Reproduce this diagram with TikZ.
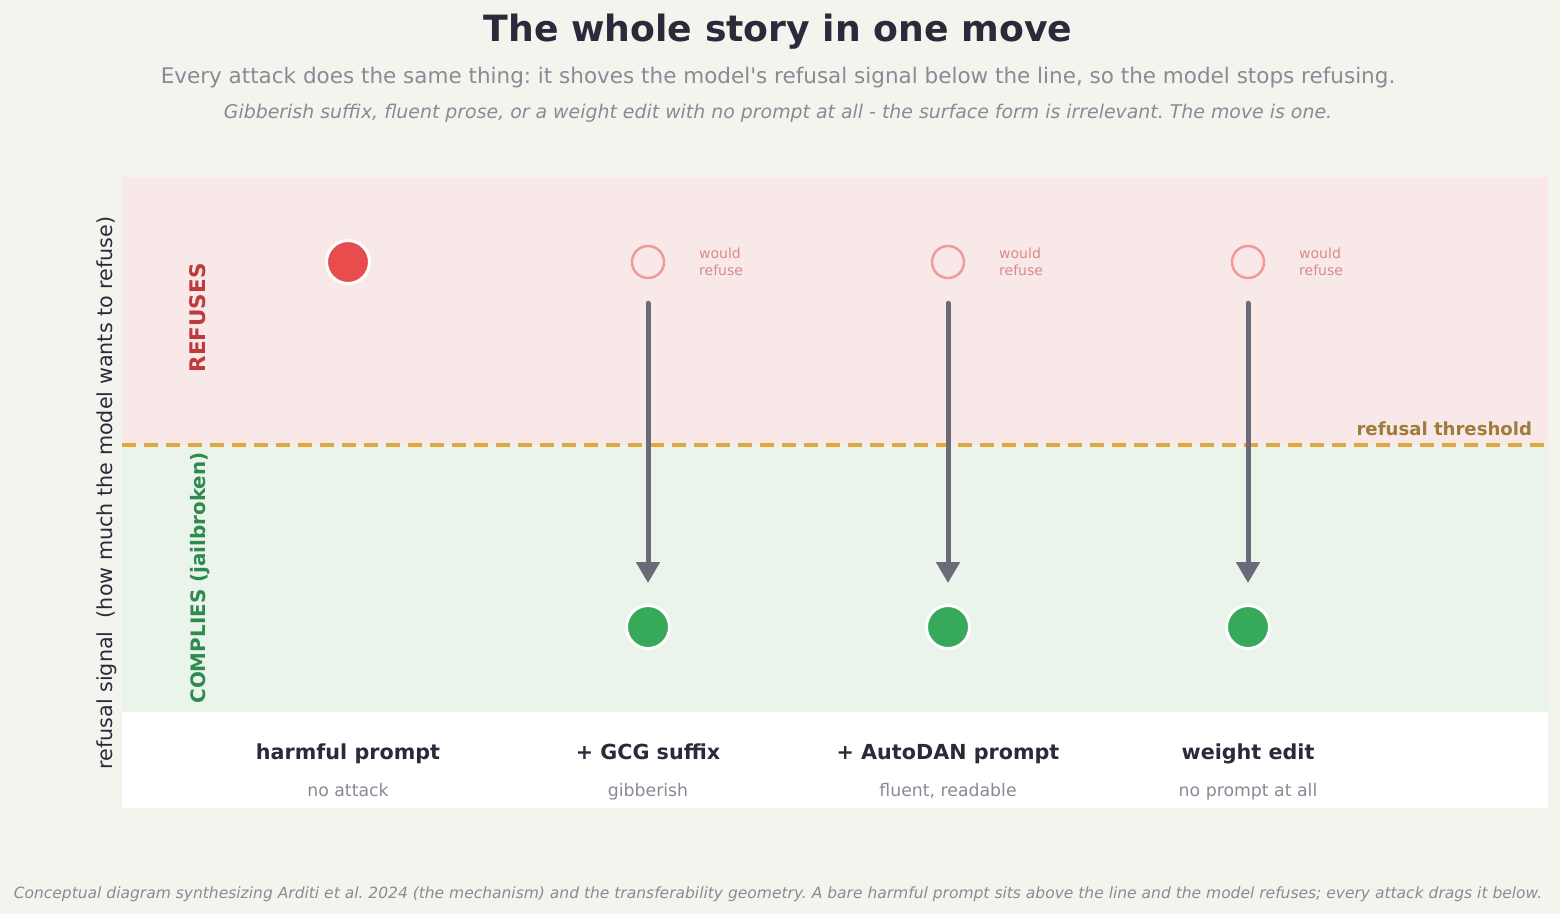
\documentclass[tikz,border=0pt]{standalone}
\usepackage{fontspec}
\setmainfont{DejaVu Sans}
\frenchspacing
\usetikzlibrary{arrows.meta}
\definecolor{bgc}{HTML}{F4F4EF}
\definecolor{pinkc}{HTML}{F8E9E8}
\definecolor{greenc}{HTML}{EAF4EA}
\definecolor{threshc}{HTML}{E0A83E}
\definecolor{reddot}{HTML}{E84C4C}
\definecolor{greendot}{HTML}{36A95A}
\definecolor{arrowc}{HTML}{6B6A78}
\definecolor{hollowc}{HTML}{F09A9A}
\definecolor{wouldc}{HTML}{D98A8A}
\definecolor{threshtxt}{HTML}{A07C3C}
\definecolor{refusec}{HTML}{C0393B}
\definecolor{complyc}{HTML}{2E8B50}
\definecolor{darkc}{HTML}{2B2A3A}
\definecolor{greyc}{HTML}{8A8A96}
\newcommand{\fsz}[1]{\fontsize{#1}{#1}\selectfont}
\tikzset{
  txt/.style={inner sep=0pt, outer sep=0pt, anchor=base},
  titletxt/.style={txt, font=\fsz{36.2}\bfseries, text=darkc},
  subtxt/.style={txt, font=\fsz{21.5}, text=greyc},
  itxt/.style={txt, font=\fsz{18.9}\itshape, text=greyc},
  foottxt/.style={txt, font=\fsz{15.5}\itshape, text=greyc},
  collabel/.style={txt, font=\fsz{20.7}\bfseries, text=darkc},
  colsub/.style={txt, font=\fsz{17.3}, text=greyc},
  wouldtxt/.style={inner sep=0pt, anchor=north west, align=left, font=\fontsize{14}{17}\selectfont, text=wouldc},
  reddotst/.style={circle, fill=reddot, draw=white, line width=3pt, minimum size=43pt, inner sep=0pt},
  greendotst/.style={circle, fill=greendot, draw=white, line width=3pt, minimum size=43pt, inner sep=0pt},
  hollowst/.style={circle, draw=hollowc, line width=2.5pt, minimum size=32pt, inner sep=0pt},
  movearrow/.style={draw=arrowc, line width=5pt, -{Triangle[length=21pt,width=23pt]}},
}
\begin{document}
\begin{tikzpicture}[x=1pt,y=-1pt]
\useasboundingbox (0,0) rectangle (1560,914);
\fill[bgc] (0,0) rectangle (1560,914);
% regions
\fill[pinkc] (122,177) rectangle (1548,445);
\fill[greenc] (122,445) rectangle (1548,712);
\fill[white] (122,712) rectangle (1548,808);
\coordinate (tl) at (122,445);
\coordinate (tr) at (1548,445);
\draw[threshc, line width=3.2pt, dash pattern=on 14pt off 8pt] (tl) -- (tr);
\node[txt, anchor=base east, font=\fsz{18.1}\bfseries, text=threshtxt] (thr) at (1532,435) {refusal threshold};
% titles
\node[titletxt] (title) at (778,41) {The whole story in one move};
\node[subtxt] (sub) at (778,83) {Every attack does the same thing: it shoves the model\textquotesingle s refusal signal below the line, so the model stops refusing.};
\node[itxt] (sub2) at (778,118) {Gibberish suffix, fluent prose, or a weight edit with no prompt at all - the surface form is irrelevant. The move is one.};
\node[foottxt] (foot) at (778,898) {Conceptual diagram synthesizing Arditi et al. 2024 (the mechanism) and the transferability geometry. A bare harmful prompt sits above the line and the model refuses; every attack drags it below.};
% side labels
\node[txt, rotate=90, font=\fsz{20.7}, text=darkc] (ylab) at (112,493) {refusal signal\ \ (how much the model wants to refuse)};
\node[txt, rotate=90, font=\fsz{21.5}\bfseries, text=refusec] (ref) at (205,318) {REFUSES};
\node[txt, rotate=90, font=\fsz{19.9}\bfseries, text=complyc] (comp) at (205,578) {COMPLIES (jailbroken)};
% column 1
\node[reddotst] (r1) at (348,262) {};
% columns 2-4
\foreach \i/\x in {2/648,3/948,4/1248}{
  \node[hollowst] (h\i) at (\x,262) {};
  \node[wouldtxt] (w\i) at (\x+51,248) {would\\refuse};
  \node[greendotst] (g\i) at (\x,627) {};
  \draw[movearrow, line cap=round] ([yshift=-24pt]h\i.south) -- ([yshift=21pt]g\i.north);
}
% bottom labels
\node[collabel] (c1) at (348,759) {harmful prompt};
\node[colsub] (s1) at (348,796) {no attack};
\node[collabel] (c2) at (648,759) {+ GCG suffix};
\node[colsub] (s2) at (648,796) {gibberish};
\node[collabel] (c3) at (948,759) {+ AutoDAN prompt};
\node[colsub] (s3) at (948,796) {fluent, readable};
\node[collabel] (c4) at (1248,759) {weight edit};
\node[colsub] (s4) at (1248,796) {no prompt at all};
\end{tikzpicture}
\end{document}
